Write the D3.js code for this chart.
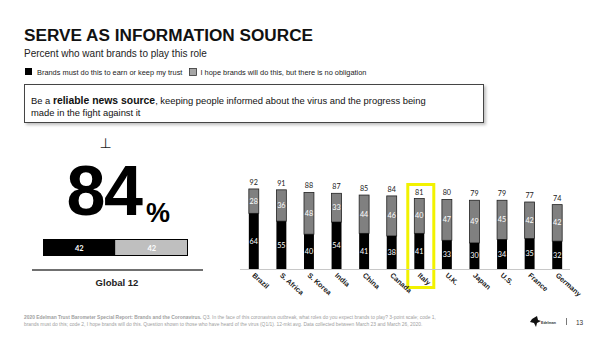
<!DOCTYPE html>
<html><head><meta charset="utf-8">
<script src="https://cdn.jsdelivr.net/npm/d3@7"></script>
<style>html,body{margin:0;padding:0;background:#fff;}svg{display:block;}</style>
</head><body>
<svg id="c" width="600" height="337"></svg>
<script>
const countries = ["Brazil","S. Africa","S. Korea","India","China","Canada","Italy","U.K.","Japan","U.S.","France","Germany"];
const totals = [92,91,88,87,85,84,81,80,79,79,77,74];
const mustValues = [64,55,40,54,41,38,41,33,30,34,35,32];
const hopeValues = [28,36,48,33,44,46,40,47,49,45,42,42];
const highlight = "Italy";
const globalLabel = "Global 12";
const globalTotal = 84;
const globalMust = 42;
const globalHope = 42;
const legendLabels = ["Brands must do this to earn or keep my trust","I hope brands will do this, but there is no obligation"];

const svg = d3.select("#c");
const SANS = "'Liberation Sans', Arial, sans-serif";
const NUM = "Lato, 'Open Sans', sans-serif";

// Title
svg.append("text").attr("x",24).attr("y",41).attr("font-family",SANS).attr("font-weight","bold")
  .attr("font-size",17.2).attr("fill","#111").text("SERVE AS INFORMATION SOURCE");
svg.append("text").attr("x",24).attr("y",57).attr("font-family",SANS)
  .attr("font-size",10).attr("fill","#222").text("Percent who want brands to play this role");

// Legend
const lg = svg.append("g").attr("font-family",SANS).attr("font-size",7.4).attr("fill","#222");
lg.append("rect").attr("x",25).attr("y",68).attr("width",7).attr("height",7).attr("fill","#000");
lg.append("text").attr("x",37).attr("y",74.5).text(legendLabels[0]);
lg.append("rect").attr("x",189.5).attr("y",68.5).attr("width",7).attr("height",7).attr("fill","#a6a6a6").attr("stroke","#333").attr("stroke-width",0.8);
lg.append("text").attr("x",200.5).attr("y",74.5).text(legendLabels[1]);

// Statement box with shadow
const defs = svg.append("defs");
const f = defs.append("filter").attr("id","sh").attr("x","-5%").attr("y","-20%").attr("width","110%").attr("height","150%");
f.append("feDropShadow").attr("dx",2).attr("dy",2).attr("stdDeviation",1.5).attr("flood-color","#000").attr("flood-opacity",0.25);
svg.append("rect").attr("x",24.5).attr("y",84.5).attr("width",459).attr("height",38).attr("fill","#fff")
  .attr("stroke","#444").attr("stroke-width",1).attr("filter","url(#sh)");
const bt = svg.append("text").attr("x",31).attr("y",104).attr("font-family",SANS).attr("font-size",9.4).attr("fill","#111");
bt.append("tspan").text("Be a ");
bt.append("tspan").attr("font-weight","bold").attr("font-size",10.4).text("reliable news source");
bt.append("tspan").text(", keeping people informed about the virus and the progress being");
svg.append("text").attr("x",31).attr("y",115.5).attr("font-family",SANS).attr("font-size",9.4).attr("fill","#111")
  .text("made in the fight against it");

// Left global panel
svg.append("text").attr("x",105.5).attr("y",148).attr("text-anchor","middle").attr("font-family","'DejaVu Sans', sans-serif")
  .attr("font-size",14).attr("fill","#222").text("⊥");
svg.append("text").attr("x",104).attr("y",215).attr("text-anchor","middle").attr("font-family",SANS).attr("font-weight","bold")
  .attr("font-size",70).attr("letter-spacing",-1.5).attr("fill","#000").text(String(globalTotal));
svg.append("text").attr("x",146).attr("y",222).attr("font-family",SANS).attr("font-weight","bold")
  .attr("font-size",27).attr("fill","#000").text("%");

const gx = d3.scaleLinear().domain([0, globalTotal]).range([43, 188]);
svg.append("rect").attr("x",gx(0)).attr("y",239).attr("width",gx(globalMust)-gx(0)).attr("height",17).attr("fill","#000");
svg.append("rect").attr("x",gx(globalMust)).attr("y",239).attr("width",gx(globalMust+globalHope)-gx(globalMust)).attr("height",17).attr("fill","#bfbfbf");
svg.append("rect").attr("x",gx(0)+0.5).attr("y",239.5).attr("width",gx(globalTotal)-gx(0)-1).attr("height",16).attr("fill","none").attr("stroke","#000").attr("stroke-width",1);
svg.append("text").attr("x",(gx(0)+gx(globalMust))/2).attr("y",250.5).attr("text-anchor","middle").attr("font-family",NUM).attr("font-weight","bold")
  .attr("font-size",7.5).attr("fill","#fff").text(globalMust);
svg.append("text").attr("x",(gx(globalMust)+gx(globalTotal))/2).attr("y",250.5).attr("text-anchor","middle").attr("font-family",NUM).attr("font-weight","bold")
  .attr("font-size",7.5).attr("fill","#fff").text(globalHope);
svg.append("line").attr("x1",32).attr("x2",203).attr("y1",270).attr("y2",270).attr("stroke","#404040").attr("stroke-width",1.6);
svg.append("text").attr("x",117).attr("y",286).attr("text-anchor","middle").attr("font-family",SANS).attr("font-weight","bold")
  .attr("font-size",9.5).attr("fill","#222").text(globalLabel);

// Country bars
const x = d3.scaleBand().domain(countries).range([240,571]).paddingInner(0.64).paddingOuter(0.32);
const y = d3.scaleLinear().domain([0,100]).range([269,182]);
const rows = countries.map((c,i)=>({c, t: totals[i], m: mustValues[i], h: hopeValues[i]}));

// highlight box
const hcx = x(highlight) + x.bandwidth()/2;
svg.append("rect").attr("x",hcx-11.5).attr("y",184.5).attr("width",26).attr("height",103)
  .attr("fill","none").attr("stroke","#f2f200").attr("stroke-width",3);

svg.append("line").attr("x1",240).attr("x2",570).attr("y1",269.5).attr("y2",269.5).attr("stroke","#c8c8c8").attr("stroke-width",1);

const g = svg.append("g");
const bars = g.selectAll("g.b").data(rows).join("g").attr("class","b");
bars.append("rect").attr("x",d=>x(d.c)).attr("y",d=>y(d.m+d.h)).attr("width",x.bandwidth())
  .attr("height",d=>y(d.m)-y(d.m+d.h)).attr("fill","#808080").attr("stroke","#222").attr("stroke-width",0.8);
bars.append("rect").attr("x",d=>x(d.c)).attr("y",d=>y(d.m)).attr("width",x.bandwidth())
  .attr("height",d=>y(0)-y(d.m)).attr("fill","#000");
bars.append("text").attr("x",d=>x(d.c)+x.bandwidth()/2).attr("y",d=>(y(d.m)+y(0))/2+2.5)
  .attr("text-anchor","middle").attr("font-family",NUM).attr("font-size",7.2).attr("fill","#fff").text(d=>d.m);
bars.append("text").attr("x",d=>x(d.c)+x.bandwidth()/2).attr("y",d=>(y(d.m)+y(d.m+d.h))/2+2.5)
  .attr("text-anchor","middle").attr("font-family",NUM).attr("font-size",7.2).attr("fill","#fff").text(d=>d.h);
bars.append("text").attr("x",d=>x(d.c)+x.bandwidth()/2).attr("y",d=>y(d.t)-4)
  .attr("text-anchor","middle").attr("font-family",NUM).attr("font-size",7.2).attr("fill","#222").text(d=>d.t);
bars.append("text").attr("font-family",SANS).attr("font-weight","bold").attr("font-size",7.2).attr("fill","#1a1a1a")
  .attr("transform",d=>`translate(${x(d.c)+x.bandwidth()/2-2},${276}) rotate(42)`).text(d=>d.c);

// Footer
const ft = svg.append("g").attr("font-family",SANS).attr("font-size",4.9).attr("fill","#a0a0a0");
const l1 = ft.append("text").attr("x",24).attr("y",319);
l1.append("tspan").attr("font-weight","bold").text("2020 Edelman Trust Barometer Special Report: Brands and the Coronavirus.");
l1.append("tspan").text(" Q3. In the face of this coronavirus outbreak, what roles do you expect brands to play? 3-point scale; code 1,");
ft.append("text").attr("x",24).attr("y",326).text("brands must do this; code 2, I hope brands will do this. Question shown to those who have heard of the virus (Q1/1). 12-mkt avg. Data collected between March 23 and March 26, 2020.");

// Logo & page number
svg.append("path").attr("d","M532,319 L537,316 L538,320 L541,321 L537,323 L536,327 L534,323 L530,322 Z").attr("fill","#111");
svg.append("text").attr("x",541).attr("y",323.5).attr("font-family",SANS).attr("font-weight","bold").attr("font-size",3.6).attr("fill","#333").text("Edelman");
svg.append("line").attr("x1",566.5).attr("x2",566.5).attr("y1",318).attr("y2",325).attr("stroke","#555").attr("stroke-width",0.8);
svg.append("text").attr("x",576).attr("y",324.5).attr("font-family",SANS).attr("font-size",6.5).attr("fill","#333").text("13");
</script>
</body></html>
